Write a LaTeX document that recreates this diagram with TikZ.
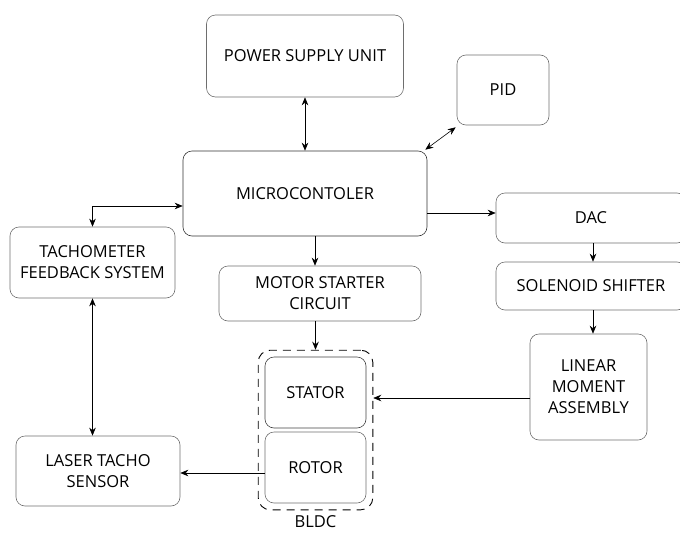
\documentclass[tikz,border=0pt]{standalone}
\usepackage{fontspec}
\setmainfont{Open Sans}
\usetikzlibrary{arrows.meta,fit}
\definecolor{box_line}{RGB}{110, 110, 110}

\begin{document}
\begin{tikzpicture}[x=1pt, y=-1pt,
  font=\fontsize{16.5}{21}\selectfont,
  box/.style={draw=box_line, line width=0.6pt, rounded corners=9pt,
    align=center, inner sep=0pt},
  arr/.style={line width=0.6pt, -{Stealth[length=8pt, width=6.5pt]}},
  dbl/.style={line width=0.6pt, {Stealth[length=8pt, width=6.5pt]}-{Stealth[length=8pt, width=6.5pt]}}]
\useasboundingbox (0,0) rectangle (680,533);

\node[box, minimum width=197pt, minimum height=82pt] (psu) at (305,56) {POWER SUPPLY UNIT};
\node[box, minimum width=92pt, minimum height=70pt] (pid) at (503,90) {PID};
\node[box, draw=black!80, minimum width=244pt, minimum height=85pt] (micro) at (305,193.5) {MICROCONTOLER};
\node[box, minimum width=190pt, minimum height=50pt] (dac) at (591,218) {DAC};
\node[box, minimum width=190pt, minimum height=48pt] (sol) at (591,286) {SOLENOID SHIFTER};
\node[box, minimum width=165pt, minimum height=71pt] (tacho) at (92.5,262.5) {TACHOMETER\\FEEDBACK SYSTEM};
\node[box, minimum width=202pt, minimum height=55pt] (motor) at (320,293.5) {MOTOR STARTER\\CIRCUIT};
\node[box, draw=black!75, minimum width=101pt, minimum height=71pt] (stator) at (315.5,392.5) {STATOR};
\node[box, minimum width=101pt, minimum height=71pt] (rotor) at (315.5,467.5) {ROTOR};
\node[box, minimum width=117pt, minimum height=106pt] (linear) at (588.5,387) {LINEAR\\MOMENT\\ASSEMBLY};
\node[box, minimum width=164pt, minimum height=70pt] (laser) at (98,471) {LASER TACHO\\SENSOR};

% dashed motor housing
\node[draw, line width=0.9pt, dash pattern=on 8pt off 6pt, rounded corners=12pt,
  inner sep=6.5pt, fit=(stator)(rotor)] (bldc) {};
\node[inner sep=0pt] (bldclabel) at (315.5,522) {BLDC};

\draw[dbl] (psu.south) -- (micro.north);
\draw[dbl] ([shift={(-1pt,-2pt)}]pid.south west) -- ([shift={(-2pt,1pt)}]micro.north east);
\draw[dbl] ([yshift=-12.5pt]micro.west) -| (tacho.north);
\draw[arr] ([yshift=-19.5pt]micro.east) -- ([yshift=5pt]dac.west);
\draw[arr] ([xshift=-5pt]motor.north |- micro.south) -- ([xshift=-5pt]motor.north);
\draw[arr] (bldc.north |- motor.south) -- (bldc.north);
\draw[arr] ([xshift=2pt]dac.south) -- ([xshift=2pt]sol.north);
\draw[arr] ([xshift=2pt]sol.south) -- ([xshift=2pt]sol.south |- linear.north);
\draw[arr] ([yshift=-11pt]linear.west) coordinate (la) -- (la -| bldc.east);
\draw[dbl] (tacho.south) -- (tacho.south |- laser.north);
\draw[arr] ([yshift=-5.5pt]rotor.west) coordinate (ro) -- (ro -| laser.east);
\end{tikzpicture}
\end{document}
